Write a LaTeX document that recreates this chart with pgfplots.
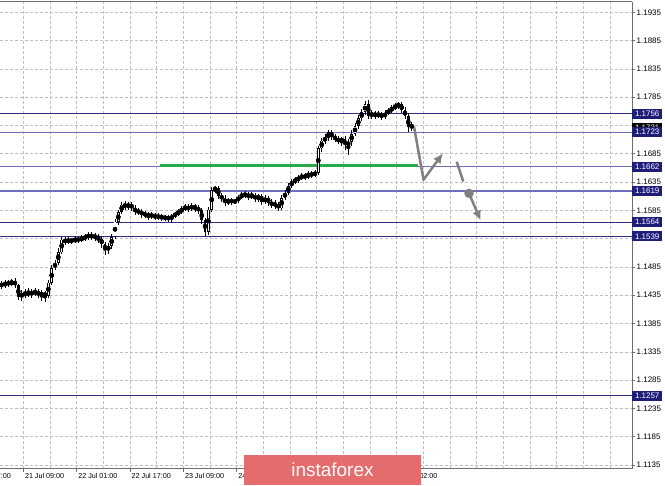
\documentclass[border=0pt]{standalone}
\usepackage{fontspec}
\setmainfont{Liberation Sans}
\usepackage{pgfplots}
\usepackage{pgfplotstable}
\pgfplotsset{compat=1.18}
\usetikzlibrary{arrows.meta}

\definecolor{lvl}{RGB}{45,45,130}
\definecolor{lvllight}{RGB}{110,110,185}
\definecolor{lblbg}{RGB}{30,30,120}
\definecolor{gridc}{RGB}{192,192,192}
\definecolor{axc}{RGB}{110,110,110}
\definecolor{zone}{RGB}{44,168,74}
\definecolor{arr}{RGB}{128,128,128}
\definecolor{wm}{RGB}{228,108,108}

% hourly candles, x = bar position on the time axis
\pgfplotstableread{
x o h l c
1.7 1.1455 1.1460 1.1446 1.1452
5.0 1.1452 1.1462 1.1448 1.1457
8.3 1.1457 1.1462 1.1450 1.1455
11.7 1.1455 1.1464 1.1452 1.1459
15.0 1.1459 1.1466 1.1448 1.1453
18.3 1.1453 1.1455 1.1427 1.1432
21.7 1.1432 1.1444 1.1425 1.1439
25.0 1.1439 1.1446 1.1430 1.1435
28.3 1.1435 1.1448 1.1432 1.1441
31.7 1.1441 1.1446 1.1430 1.1437
35.0 1.1437 1.1448 1.1434 1.1443
38.3 1.1443 1.1446 1.1430 1.1435
41.7 1.1435 1.1444 1.1425 1.1439
45.0 1.1439 1.1443 1.1423 1.1434
48.3 1.1434 1.1462 1.1430 1.1457
51.7 1.1457 1.1488 1.1453 1.1483
55.0 1.1483 1.1497 1.1480 1.1492
58.3 1.1492 1.1519 1.1488 1.1511
61.7 1.1511 1.1538 1.1508 1.1533
65.0 1.1533 1.1538 1.1524 1.1529
68.3 1.1529 1.1538 1.1526 1.1533
71.7 1.1533 1.1536 1.1526 1.1531
75.0 1.1531 1.1540 1.1527 1.1534
78.3 1.1534 1.1540 1.1527 1.1533
81.7 1.1533 1.1541 1.1529 1.1536
85.0 1.1536 1.1543 1.1531 1.1538
88.3 1.1538 1.1547 1.1533 1.1541
91.7 1.1541 1.1547 1.1533 1.1538
95.0 1.1538 1.1545 1.1531 1.1540
98.3 1.1540 1.1543 1.1527 1.1534
101.7 1.1534 1.1540 1.1519 1.1526
105.0 1.1526 1.1529 1.1506 1.1515
108.3 1.1515 1.1527 1.1508 1.1522
111.7 1.1522 1.1543 1.1517 1.1538
115.0 1.1538 1.1570 1.1534 1.1565
118.3 1.1565 1.1586 1.1559 1.1582
121.7 1.1582 1.1600 1.1579 1.1595
125.0 1.1595 1.1602 1.1586 1.1591
128.3 1.1591 1.1600 1.1586 1.1596
131.7 1.1596 1.1600 1.1584 1.1589
135.0 1.1589 1.1595 1.1577 1.1582
138.3 1.1582 1.1589 1.1577 1.1584
141.7 1.1584 1.1588 1.1572 1.1577
145.0 1.1577 1.1584 1.1572 1.1579
148.3 1.1579 1.1582 1.1568 1.1575
151.7 1.1575 1.1582 1.1570 1.1577
155.0 1.1577 1.1580 1.1568 1.1573
158.3 1.1573 1.1580 1.1568 1.1575
161.7 1.1575 1.1579 1.1566 1.1572
165.0 1.1572 1.1577 1.1566 1.1573
168.3 1.1573 1.1577 1.1565 1.1570
171.7 1.1570 1.1579 1.1565 1.1575
175.0 1.1575 1.1582 1.1572 1.1579
178.3 1.1579 1.1588 1.1575 1.1582
181.7 1.1582 1.1593 1.1579 1.1588
185.0 1.1588 1.1596 1.1584 1.1591
188.3 1.1591 1.1596 1.1582 1.1588
191.7 1.1588 1.1598 1.1584 1.1593
195.0 1.1593 1.1596 1.1582 1.1589
198.3 1.1589 1.1595 1.1579 1.1586
201.7 1.1586 1.1589 1.1561 1.1568
205.0 1.1568 1.1572 1.1540 1.1547
208.3 1.1547 1.1591 1.1541 1.1586
211.7 1.1586 1.1627 1.1582 1.1621
215.0 1.1621 1.1628 1.1616 1.1625
218.3 1.1625 1.1628 1.1605 1.1611
221.7 1.1611 1.1616 1.1600 1.1605
225.0 1.1605 1.1612 1.1593 1.1598
228.3 1.1598 1.1607 1.1595 1.1603
231.7 1.1603 1.1607 1.1595 1.1600
235.0 1.1600 1.1605 1.1596 1.1602
238.3 1.1602 1.1612 1.1598 1.1609
241.7 1.1609 1.1618 1.1605 1.1611
245.0 1.1611 1.1619 1.1607 1.1614
248.3 1.1614 1.1618 1.1603 1.1609
251.7 1.1609 1.1618 1.1605 1.1612
255.0 1.1612 1.1616 1.1600 1.1605
258.3 1.1605 1.1614 1.1600 1.1611
261.7 1.1611 1.1614 1.1595 1.1600
265.0 1.1600 1.1612 1.1596 1.1607
268.3 1.1607 1.1611 1.1593 1.1598
271.7 1.1598 1.1605 1.1589 1.1595
275.0 1.1595 1.1603 1.1588 1.1596
278.3 1.1596 1.1600 1.1584 1.1589
281.7 1.1589 1.1612 1.1586 1.1607
285.0 1.1607 1.1621 1.1603 1.1616
288.3 1.1616 1.1634 1.1612 1.1628
291.7 1.1628 1.1641 1.1625 1.1635
295.0 1.1635 1.1644 1.1632 1.1639
298.3 1.1639 1.1648 1.1634 1.1642
301.7 1.1642 1.1651 1.1639 1.1646
305.0 1.1646 1.1651 1.1639 1.1644
308.3 1.1644 1.1655 1.1641 1.1649
311.7 1.1649 1.1655 1.1642 1.1648
315.0 1.1648 1.1656 1.1644 1.1651
318.3 1.1651 1.1699 1.1648 1.1695
321.7 1.1695 1.1713 1.1688 1.1708
325.0 1.1708 1.1720 1.1702 1.1713
328.3 1.1713 1.1727 1.1708 1.1723
331.7 1.1723 1.1727 1.1709 1.1715
335.0 1.1715 1.1720 1.1706 1.1711
338.3 1.1711 1.1716 1.1702 1.1708
341.7 1.1708 1.1715 1.1699 1.1711
345.0 1.1711 1.1716 1.1692 1.1700
348.3 1.1700 1.1711 1.1683 1.1706
351.7 1.1706 1.1727 1.1699 1.1720
355.0 1.1720 1.1739 1.1716 1.1734
358.3 1.1734 1.1753 1.1729 1.1748
361.7 1.1748 1.1764 1.1743 1.1759
365.0 1.1759 1.1778 1.1753 1.1773
368.3 1.1773 1.1780 1.1746 1.1752
371.7 1.1752 1.1762 1.1746 1.1757
375.0 1.1757 1.1761 1.1746 1.1752
378.3 1.1752 1.1761 1.1748 1.1755
381.7 1.1755 1.1759 1.1745 1.1750
385.0 1.1750 1.1762 1.1746 1.1757
388.3 1.1757 1.1766 1.1753 1.1761
391.7 1.1761 1.1771 1.1757 1.1766
395.0 1.1766 1.1775 1.1762 1.1769
398.3 1.1769 1.1776 1.1764 1.1773
401.7 1.1773 1.1776 1.1757 1.1762
405.0 1.1762 1.1768 1.1746 1.1752
408.3 1.1752 1.1757 1.1723 1.1732
411.7 1.1732 1.1741 1.1725 1.1736
}\candles

\tikzset{
  lbl/.style={anchor=west, fill=lblbg, text=white, font=\fontsize{8}{9}\selectfont,
    inner sep=0pt, minimum width=30bp, minimum height=10bp},
  tlbl/.style={font=\fontsize{7.2}{8}\selectfont, anchor=north west, inner sep=1bp},
}

\begin{document}
\begin{tikzpicture}
\begin{axis}[
    scale only axis,
    width=632bp, height=467bp,
    xmin=0, xmax=632,
    ymin=1.11279, ymax=1.19532,
    clip=false,
    separate axis lines,
    x axis line style={draw=axc, line width=1bp},
    y axis line style={draw=none},
    xtick pos=bottom, ytick pos=right,
    yticklabel pos=right,
    tick align=outside,
    major tick length=3bp, minor tick length=0pt,
    tick style={axc, line width=0.6bp},
    xtick={23.33,76.67,130,183.33,236.67,290,343.33,396.67},
    xticklabels={21 Jul 09:00,22 Jul 01:00,22 Jul 17:00,23 Jul 09:00,24 Jul 01:00,24 Jul 17:00,27 Jul 10:00,28 Jul 02:00},
    minor xtick={23.33,50,76.67,103.33,130,156.67,183.33,210,236.67,263.33,290,316.67,343.33,370,396.67,423.33,450,476.67,503.33,530,556.67,583.33,610},
    ytick={1.1135,1.1185,1.1235,1.1285,1.1335,1.1385,1.1435,1.1485,1.1535,1.1585,1.1635,1.1685,1.1735,1.1785,1.1835,1.1885,1.1935},
    yticklabels={1.1135,1.1185,1.1235,1.1285,1.1335,1.1385,1.1435,1.1485,,1.1585,1.1635,1.1685,,1.1785,1.1835,1.1885,1.1935},
    xticklabel style={tlbl, xshift=0.5bp},
    yticklabel style={font=\fontsize{8}{9}\selectfont, anchor=west, inner sep=1.5bp},
    xminorgrids, ymajorgrids,
    grid style={gridc, dash pattern=on 2.5bp off 2.5bp, line width=0.6bp},
    minor grid style={gridc, dash pattern=on 2.5bp off 2.5bp, line width=0.6bp},
]

% support / resistance levels
\addplot[lvl, line width=1bp] coordinates {(0,1.1756) (632,1.1756)};
\addplot[lvllight, line width=1.3bp] coordinates {(0,1.1723) (632,1.1723)};
\addplot[lvllight, line width=1.3bp] coordinates {(0,1.1662) (632,1.1662)};
\addplot[lvllight, line width=1.3bp] coordinates {(0,1.1619) (632,1.1619)};
\addplot[lvl, line width=1bp] coordinates {(0,1.1564) (632,1.1564)};
\addplot[lvl, line width=1bp] coordinates {(0,1.1539) (632,1.1539)};
\addplot[lvl, line width=1bp] coordinates {(0,1.1257) (632,1.1257)};

% green zone
\addplot[zone, line width=3bp] coordinates {(160,1.1665) (418,1.1665)};

% wicks
\addplot[only marks, mark=none, error bars/.cd, y dir=both, y explicit, error mark=none,
    error bar style={draw=black, solid, line width=0.9bp}]
  table[x=x, y expr={(\thisrow{h}+\thisrow{l})/2}, y error expr={(\thisrow{h}-\thisrow{l})/2}] {\candles};
% bodies
\addplot[only marks, mark=none, error bars/.cd, y dir=both, y explicit, error mark=none,
    error bar style={draw=black, solid, line width=2.9bp}]
  table[x=x, y expr={(\thisrow{o}+\thisrow{c})/2}, y error expr={abs(\thisrow{c}-\thisrow{o})/2}] {\candles};
% hollow inside of rising candles
\addplot[only marks, mark=none, unbounded coords=discard,
    restrict expr to domain={\thisrow{c}-\thisrow{o}}{0.0003:1},
    error bars/.cd, y dir=both, y explicit, error mark=none,
    error bar style={draw=white, solid, line width=1.2bp}]
  table[x=x, y expr={(\thisrow{o}+\thisrow{c})/2}, y error expr={abs(\thisrow{c}-\thisrow{o})/2-0.00011}] {\candles};

% forecast arrows
\addplot[arr, line width=2.5bp, line join=round, -{Latex[length=10bp,width=9bp]}]
  coordinates {(414,1.1733) (423.5,1.1639) (443,1.1686)};
\addplot[arr, line width=2.5bp] coordinates {(456.7,1.1671) (463.3,1.1636)};
\addplot[arr, only marks, mark=*, mark size=4.5bp, mark options={fill=arr, draw=arr}]
  coordinates {(469,1.1615)};
\addplot[arr, line width=2.5bp, -{Latex[length=10bp,width=9bp]}]
  coordinates {(470,1.1611) (480.7,1.1567)};

% right frame line
\draw[axc, line width=1bp] (rel axis cs:1,0) -- (rel axis cs:1,1);

% first time label, cut by the left edge
\node[tlbl, xshift=0.5bp, yshift=-3bp] at (axis cs:-30,1.11279) {20 Jul 17:00};

% price labels
\node[lbl, fill=black] at (axis cs:632,1.1731) {1.1731};
\node[lbl] at (axis cs:632,1.1756) {1.1756};
\node[lbl] at (axis cs:632,1.1723) {1.1723};
\node[lbl] at (axis cs:632,1.1662) {1.1662};
\node[lbl] at (axis cs:632,1.1619) {1.1619};
\node[lbl] at (axis cs:632,1.1564) {1.1564};
\node[lbl] at (axis cs:632,1.1539) {1.1539};
\node[lbl] at (axis cs:632,1.1257) {1.1257};

\end{axis}

% watermark
\fill[wm] (244bp,-16bp) rectangle (421bp,14bp);
\node[text=white, font=\fontsize{19}{20}\selectfont] at (332.5bp,-0.5bp) {instaforex};

\pgfresetboundingbox
\path[use as bounding box] (0,-17bp) rectangle (665bp,469bp);
\end{tikzpicture}
\end{document}
